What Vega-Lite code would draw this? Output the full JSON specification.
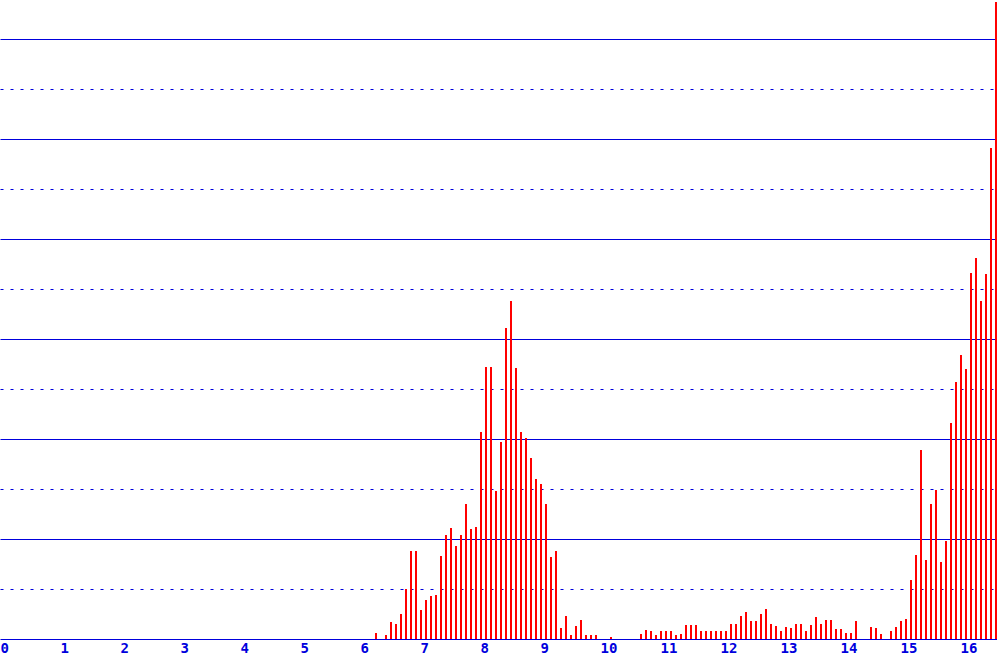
{
  "$schema": "https://vega.github.io/schema/vega-lite/v6.json",
  "width": 997,
  "height": 639,
  "padding": {"left": 0, "top": 0, "right": 0, "bottom": 20},
  "autosize": {"type": "none"},
  "background": "white",
  "config": {"view": {"stroke": null}},
  "data": {"values": [
    {"x": 6.25, "v": 6}, {"x": 6.4167, "v": 4}, {"x": 6.5, "v": 17}, {"x": 6.5833, "v": 15},
    {"x": 6.6667, "v": 25}, {"x": 6.75, "v": 50}, {"x": 6.8333, "v": 88}, {"x": 6.9167, "v": 88},
    {"x": 7.0, "v": 29}, {"x": 7.0833, "v": 39}, {"x": 7.1667, "v": 43}, {"x": 7.25, "v": 44},
    {"x": 7.3333, "v": 83}, {"x": 7.4167, "v": 104}, {"x": 7.5, "v": 111}, {"x": 7.5833, "v": 93},
    {"x": 7.6667, "v": 104}, {"x": 7.75, "v": 135}, {"x": 7.8333, "v": 110}, {"x": 7.9167, "v": 112},
    {"x": 8.0, "v": 207}, {"x": 8.0833, "v": 272}, {"x": 8.1667, "v": 272}, {"x": 8.25, "v": 148},
    {"x": 8.3333, "v": 197}, {"x": 8.4167, "v": 311}, {"x": 8.5, "v": 338}, {"x": 8.5833, "v": 271},
    {"x": 8.6667, "v": 207}, {"x": 8.75, "v": 201}, {"x": 8.8333, "v": 181}, {"x": 8.9167, "v": 160},
    {"x": 9.0, "v": 155}, {"x": 9.0833, "v": 135}, {"x": 9.1667, "v": 82}, {"x": 9.25, "v": 88},
    {"x": 9.3333, "v": 11}, {"x": 9.4167, "v": 23}, {"x": 9.5, "v": 4}, {"x": 9.5833, "v": 13},
    {"x": 9.6667, "v": 19}, {"x": 9.75, "v": 4}, {"x": 9.8333, "v": 4}, {"x": 9.9167, "v": 4},
    {"x": 10.1667, "v": 2},
    {"x": 10.6667, "v": 5}, {"x": 10.75, "v": 9}, {"x": 10.8333, "v": 8}, {"x": 10.9167, "v": 4},
    {"x": 11.0, "v": 8}, {"x": 11.0833, "v": 8}, {"x": 11.1667, "v": 8}, {"x": 11.25, "v": 4},
    {"x": 11.3333, "v": 5}, {"x": 11.4167, "v": 14}, {"x": 11.5, "v": 14}, {"x": 11.5833, "v": 14},
    {"x": 11.6667, "v": 8}, {"x": 11.75, "v": 8}, {"x": 11.8333, "v": 8}, {"x": 11.9167, "v": 8},
    {"x": 12.0, "v": 8}, {"x": 12.0833, "v": 8}, {"x": 12.1667, "v": 15}, {"x": 12.25, "v": 15},
    {"x": 12.3333, "v": 23}, {"x": 12.4167, "v": 27}, {"x": 12.5, "v": 18}, {"x": 12.5833, "v": 18},
    {"x": 12.6667, "v": 25}, {"x": 12.75, "v": 30}, {"x": 12.8333, "v": 15}, {"x": 12.9167, "v": 13},
    {"x": 13.0, "v": 8}, {"x": 13.0833, "v": 12}, {"x": 13.1667, "v": 11}, {"x": 13.25, "v": 15},
    {"x": 13.3333, "v": 15}, {"x": 13.4167, "v": 8}, {"x": 13.5, "v": 14}, {"x": 13.5833, "v": 22},
    {"x": 13.6667, "v": 15}, {"x": 13.75, "v": 19}, {"x": 13.8333, "v": 19}, {"x": 13.9167, "v": 10},
    {"x": 14.0, "v": 10}, {"x": 14.0833, "v": 6}, {"x": 14.1667, "v": 6}, {"x": 14.25, "v": 18},
    {"x": 14.5, "v": 12}, {"x": 14.5833, "v": 11}, {"x": 14.6667, "v": 5},
    {"x": 14.8333, "v": 8}, {"x": 14.9167, "v": 12}, {"x": 15.0, "v": 18}, {"x": 15.0833, "v": 20},
    {"x": 15.1667, "v": 59}, {"x": 15.25, "v": 84}, {"x": 15.3333, "v": 189}, {"x": 15.4167, "v": 79},
    {"x": 15.5, "v": 135}, {"x": 15.5833, "v": 149}, {"x": 15.6667, "v": 77}, {"x": 15.75, "v": 98},
    {"x": 15.8333, "v": 216}, {"x": 15.9167, "v": 257}, {"x": 16.0, "v": 284}, {"x": 16.0833, "v": 270},
    {"x": 16.1667, "v": 366}, {"x": 16.25, "v": 381}, {"x": 16.3333, "v": 338}, {"x": 16.4167, "v": 365},
    {"x": 16.5, "v": 491}, {"x": 16.5833, "v": 637}
  ]},
  "mark": {"type": "bar", "color": "#ff0000", "width": 2, "xOffset": 1},
  "encoding": {
    "x": {
      "field": "x", "type": "quantitative",
      "scale": {"domain": [0, 16.6167], "nice": false, "zero": false, "padding": 0},
      "axis": {
        "title": null, "values": [0,1,2,3,4,5,6,7,8,9,10,11,12,13,14,15,16],
        "grid": false, "ticks": false, "domainColor": "#0000dd", "domainWidth": 1,
        "labelColor": "#0000dd", "labelFont": "DejaVu Sans Mono", "labelFontWeight": "bold",
        "labelFontSize": 14, "labelAlign": "left", "labelBaseline": "top", "labelPadding": 2,
        "labelFlush": false, "labelOverlap": false, "labelBound": false
      }
    },
    "y": {
      "field": "v", "type": "quantitative",
      "scale": {"domain": [0, 639], "nice": false, "padding": 0},
      "axis": {
        "title": null, "labels": false, "ticks": false, "domain": false,
        "values": [50,100,150,200,250,300,350,400,450,500,550,600],
        "grid": true, "gridColor": "#0000dd", "gridOpacity": 1, "gridWidth": 1,
        "gridDash": {"condition": {"test": "datum.value % 100 !== 0", "value": [3, 7]}, "value": []}
      }
    }
  }
}
